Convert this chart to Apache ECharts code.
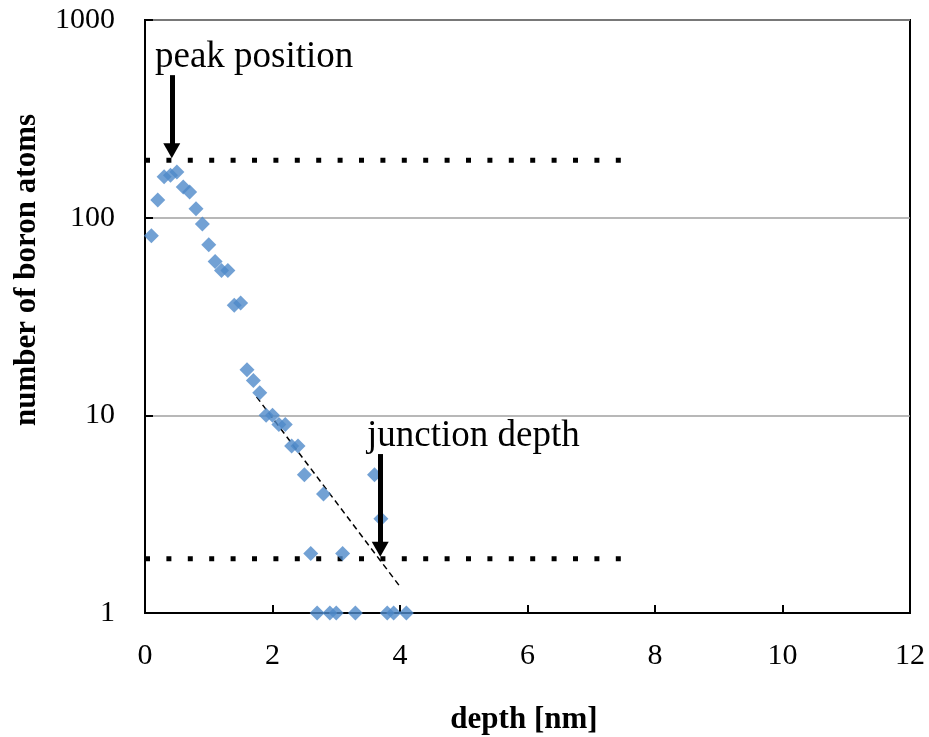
<!DOCTYPE html>
<html>
<head>
<meta charset="utf-8">
<script src="https://cdn.jsdelivr.net/npm/echarts@6/dist/echarts.min.js"></script>
<style>
  html, body { margin: 0; padding: 0; background: #fff; }
  #chart { width: 929px; height: 737px; }
</style>
</head>
<body>
<div id="chart"></div>
<script>
// measured profile: depth [nm] vs number of boron atoms
const depth = [0.1, 0.2, 0.3, 0.4, 0.5, 0.6, 0.7, 0.8, 0.9, 1.0, 1.1, 1.2, 1.3, 1.4, 1.5,
    1.6, 1.7, 1.8, 1.9, 2.0, 2.1, 2.2, 2.3, 2.4, 2.5, 2.6, 2.7, 2.8, 2.9, 3.0, 3.1, 3.3,
    3.6, 3.7, 3.8, 3.9, 4.1];
const atoms = [81, 123, 161, 164, 170, 143, 135, 111, 93, 73, 60, 54, 54, 36, 37,
    17, 15, 13, 10, 10, 9, 9, 7, 7, 5, 2, 1, 4, 1, 1, 2, 1,
    5, 3, 1, 1, 1];

// guide lines (dotted levels, dashed fit)
const guideDepth = [0, 7.55];
const peakLevel = 195;
const junctionLevel = 1.88;
const fitDepth = [1.75, 4.0];
const fitAtoms = [12.4, 1.36];

// arrows: [x, from, to]
const peakArrow = [0.42, 526, 218];
const junctionArrow = [3.69, 6.37, 2.1];

const xTicks = { min: 0, max: 12, interval: 2 };
const yTicks = { min: 1, max: 1000 };

const serif = 'Liberation Serif, Times New Roman, serif';

const chart = echarts.init(document.getElementById('chart'));

function arrow(a) {
    return [{ coord: [a[0], a[1]] }, { coord: [a[0], a[2]] }];
}

const option = {
    animation: false,
    grid: {
        left: 145, top: 20, right: 19, bottom: 124,
        show: true, borderColor: '#000', borderWidth: 2
    },
    xAxis: {
        type: 'value',
        min: xTicks.min, max: xTicks.max, interval: xTicks.interval,
        axisLine: { onZero: false, lineStyle: { color: '#000', width: 2 } },
        axisTick: { inside: true, length: 8, lineStyle: { color: '#000', width: 2 } },
        axisLabel: { color: '#000', fontFamily: serif, fontSize: 30, margin: 28 },
        splitLine: { show: false }
    },
    yAxis: {
        type: 'log', logBase: 10,
        min: yTicks.min, max: yTicks.max,
        axisLine: { lineStyle: { color: '#000', width: 2 } },
        axisTick: { inside: true, length: 8, lineStyle: { color: '#000', width: 2 } },
        axisLabel: { color: '#000', fontFamily: serif, fontSize: 30, margin: 30,
            formatter: v => String(Math.round(v)) },
        splitLine: { lineStyle: { color: '#a0a0a0', width: 1.5 } },
        minorTick: { show: false }
    },
    series: [
        {
            type: 'line',
            data: guideDepth.map(x => [x, peakLevel]),
            showSymbol: false, silent: true,
            lineStyle: { color: '#000', width: 5, type: [5, 16.4] }
        },
        {
            type: 'line',
            data: guideDepth.map(x => [x, junctionLevel]),
            showSymbol: false, silent: true,
            lineStyle: { color: '#000', width: 5, type: [5, 16.4] }
        },
        {
            type: 'line',
            data: fitDepth.map((x, i) => [x, fitAtoms[i]]),
            showSymbol: false, silent: true,
            lineStyle: { color: '#000', width: 1.5, type: [6, 4] }
        },
        {
            type: 'scatter',
            data: depth.map((x, i) => [x, atoms[i]]),
            symbol: 'diamond', symbolSize: 15,
            itemStyle: { color: '#4f8ac9' },
            z: 3,
            markLine: {
                silent: true,
                symbol: ['none', 'triangle'],
                symbolSize: [17, 15],
                label: { show: false },
                lineStyle: { color: '#000', width: 5, type: 'solid' },
                itemStyle: { color: '#000' },
                data: [arrow(peakArrow), arrow(junctionArrow)]
            }
        }
    ],
    graphic: [
        {
            type: 'text', left: 155, top: 39,
            style: { text: 'peak position', fill: '#000', font: '37px ' + serif }
        },
        {
            type: 'text', left: 367, top: 418,
            style: { text: 'junction depth', fill: '#000', font: '37px ' + serif }
        },
        {
            type: 'text', x: 27, y: 270, rotation: Math.PI / 2,
            style: { text: 'number of boron atoms', fill: '#000', font: 'bold 31px ' + serif,
                align: 'center', verticalAlign: 'middle' }
        },
        {
            type: 'text', x: 524, y: 720,
            style: { text: 'depth [nm]', fill: '#000', font: 'bold 31px ' + serif,
                align: 'center', verticalAlign: 'middle' }
        }
    ]
};

chart.setOption(option);
</script>
</body>
</html>
